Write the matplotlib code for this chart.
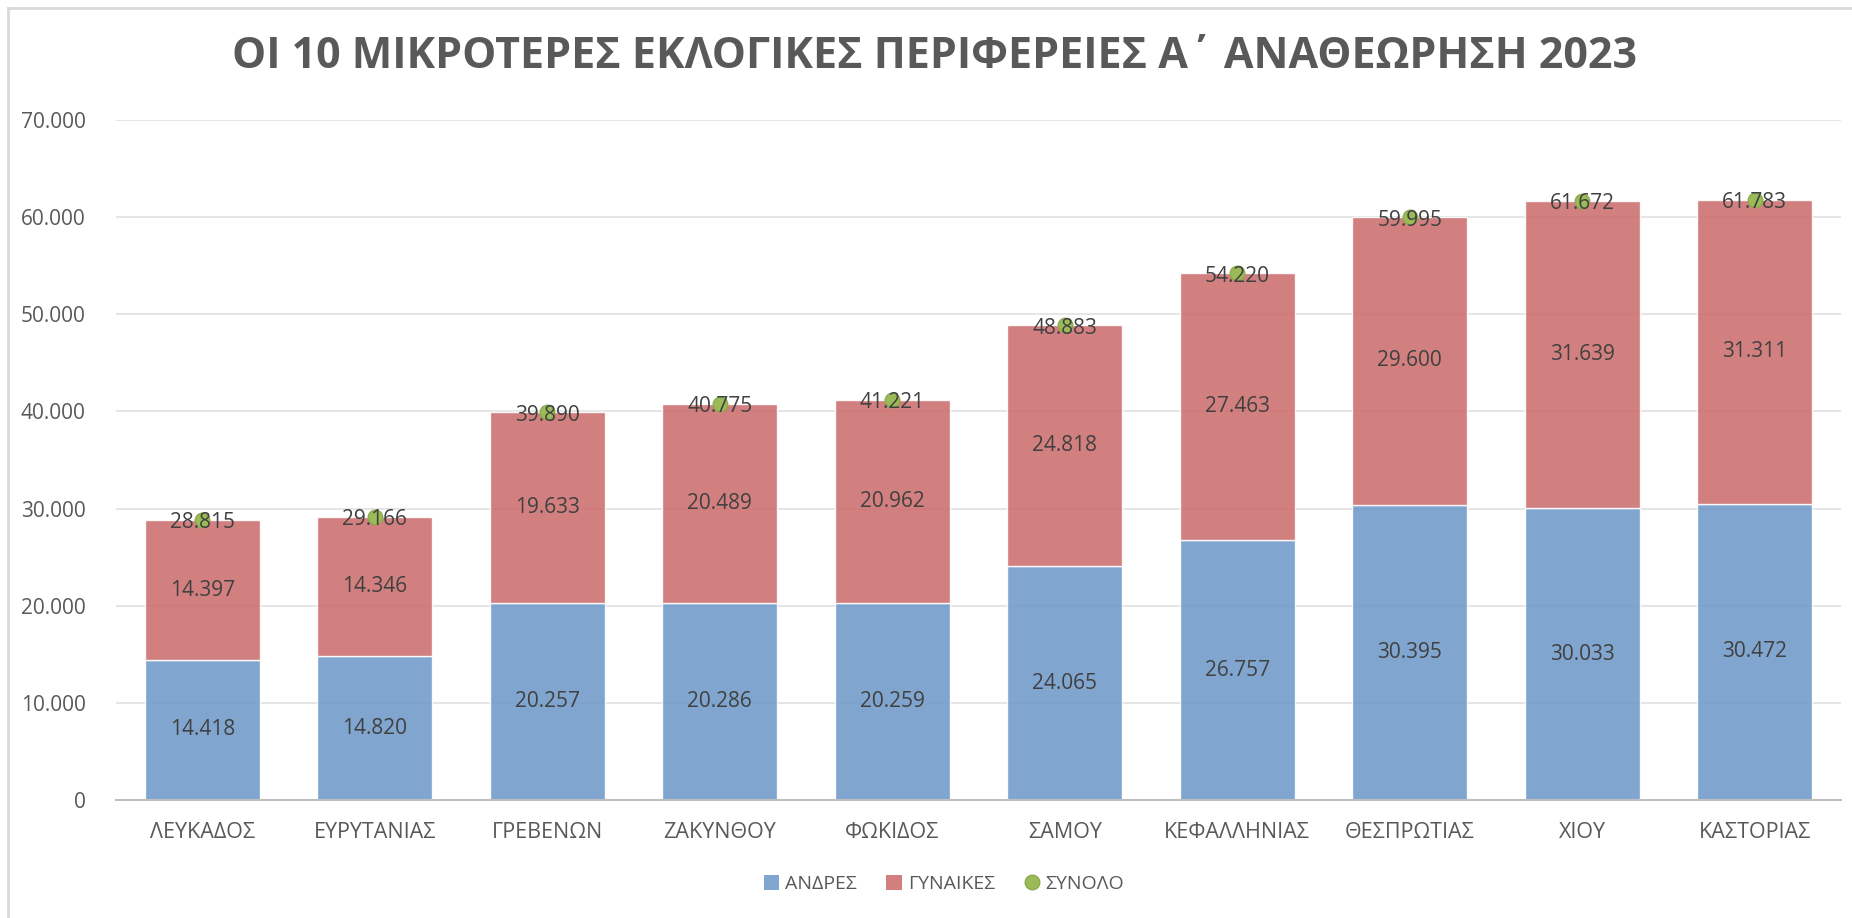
import matplotlib
matplotlib.use("Agg")
import matplotlib.pyplot as plt
from matplotlib.lines import Line2D
from matplotlib.patches import Patch
import numpy as np

categories = ["ΛΕΥΚΑΔΟΣ", "ΕΥΡΥΤΑΝΙΑΣ", "ΓΡΕΒΕΝΩΝ", "ΖΑΚΥΝΘΟΥ", "ΦΩΚΙΔΟΣ",
              "ΣΑΜΟΥ", "ΚΕΦΑΛΛΗΝΙΑΣ", "ΘΕΣΠΡΩΤΙΑΣ", "ΧΙΟΥ", "ΚΑΣΤΟΡΙΑΣ"]
men = [14418, 14820, 20257, 20286, 20259, 24065, 26757, 30395, 30033, 30472]
women = [14397, 14346, 19633, 20489, 20962, 24818, 27463, 29600, 31639, 31311]
total = [28815, 29166, 39890, 40775, 41221, 48883, 54220, 59995, 61672, 61783]
yticks = [0, 10000, 20000, 30000, 40000, 50000, 60000, 70000]
title = "ΟΙ 10 ΜΙΚΡΟΤΕΡΕΣ ΕΚΛΟΓΙΚΕΣ ΠΕΡΙΦΕΡΕΙΕΣ Α΄ ΑΝΑΘΕΩΡΗΣΗ 2023"
series_names = ["ΑΝΔΡΕΣ", "ΓΥΝΑΙΚΕΣ", "ΣΥΝΟΛΟ"]

FONT = ["Open Sans", "DejaVu Sans"]
plt.rcParams["font.family"] = FONT

def fmt(v):
    return f"{v:,}".replace(",", ".")

W, H = 1852, 918
fig = plt.figure(figsize=(W / 100, H / 100), dpi=100)
ax = fig.add_axes([116 / W, 1 - 800 / H, (1841 - 116) / W, (800 - 120) / H])

blue = "#729BCA"
red = "#CE7171"
green = "#9BBB59"
x = np.arange(len(categories))
bw = 0.666

ax.bar(x, men, bw, color=blue, alpha=0.9, edgecolor=(1, 1, 1, 0.45), linewidth=1, zorder=2)
ax.bar(x, women, bw, bottom=men, color=red, alpha=0.9, edgecolor=(1, 1, 1, 0.45), linewidth=1, zorder=2)
ax.plot(x, total, linestyle="none", marker="o", markersize=10.5, markerfacecolor=green,
        markeredgecolor="#8CAA4E", markeredgewidth=1, zorder=3)

for i in range(len(categories)):
    ax.text(x[i], men[i] / 2, fmt(men[i]), ha="center", va="center", fontsize=15,
            color="#404040", zorder=4)
    ax.text(x[i], men[i] + women[i] / 2, fmt(women[i]), ha="center", va="center",
            fontsize=15, color="#404040", zorder=4)
    ax.text(x[i], total[i] - 300, fmt(total[i]), ha="center", va="center", fontsize=15,
            color="#404040", zorder=4)

ax.set_xlim(-0.5, len(categories) - 0.5)
ax.set_ylim(0, 70000)
ax.set_yticks(yticks)
ax.set_yticklabels([fmt(v) for v in yticks], fontsize=15, color="#595959")
ax.set_xticks(x)
ax.set_xticklabels(categories, fontsize=15.5, color="#595959")
ax.tick_params(axis="both", length=0)
ax.tick_params(axis="y", pad=22)
ax.tick_params(axis="x", pad=16)
ax.yaxis.grid(True, color="#E3E3E3", linewidth=1.3, zorder=0)
ax.set_axisbelow(True)
for s in ["top", "right", "left"]:
    ax.spines[s].set_visible(False)
ax.spines["bottom"].set_color("#BFBFBF")
ax.spines["bottom"].set_linewidth(1.5)
ax.spines["bottom"].set_zorder(5)

fig.text(935 / W, 1 - 56 / H, title, ha="center", va="center", fontsize=31,
         fontweight="bold", color="#595959")

handles = [Patch(facecolor=blue, alpha=0.9, label=series_names[0]),
           Patch(facecolor=red, alpha=0.9, label=series_names[1]),
           Line2D([], [], linestyle="none", marker="o", markersize=10.5,
                  markerfacecolor=green, markeredgecolor="#8CAA4E", label=series_names[2])]
fig.legend(handles=handles, loc="center", bbox_to_anchor=(944 / W, 1 - 884 / H), ncol=3,
           frameon=False, fontsize=14, labelcolor="#595959", handlelength=0.8,
           handleheight=0.8, handletextpad=0.3, columnspacing=1.5)

# chart border (top and left visible)
fig.add_artist(Line2D([8 / W, 8 / W], [0, 1 - 8 / H], transform=fig.transFigure,
                      color="#D9D9D9", linewidth=2))
fig.add_artist(Line2D([8 / W, 1], [1 - 8 / H, 1 - 8 / H], transform=fig.transFigure,
                      color="#D9D9D9", linewidth=2))

fig.savefig("out.png", dpi=100, facecolor="white")
